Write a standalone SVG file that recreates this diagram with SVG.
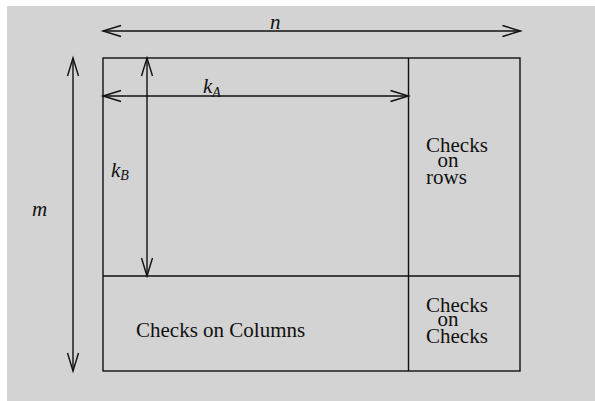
<svg xmlns="http://www.w3.org/2000/svg" width="595" height="401" viewBox="0 0 595 401">
<style>
.ln{stroke:#111;stroke-width:1.4;fill:none}
.t{font-family:"Liberation Serif","Times New Roman",serif;font-size:21px;fill:#111}
.m{font-family:"Liberation Serif","Times New Roman",serif;font-style:italic;font-size:21px;fill:#111}
.s{font-size:14px}
</style>
<defs>
<marker id="ah" markerUnits="userSpaceOnUse" markerWidth="24" markerHeight="16" viewBox="-20 -8 24 16" refX="0" refY="0" orient="auto-start-reverse" overflow="visible">
<path d="M-18,-5.5 L0,0 L-18,5.5" stroke="#111" stroke-width="1.4" fill="none"/>
</marker>
</defs>
<rect x="0" y="0" width="595" height="401" fill="#ffffff"/>
<rect x="7" y="6" width="588" height="395" fill="#d3d3d3"/>
<g id="matrix">
<rect class="ln" x="103" y="58" width="417" height="313"/>
<line class="ln" x1="408.5" y1="58" x2="408.5" y2="371"/>
<line class="ln" x1="103" y1="276" x2="520" y2="276"/>
</g>
<g id="connectors">
<line class="ln" x1="103" y1="31" x2="520.5" y2="31" marker-start="url(#ah)" marker-end="url(#ah)"/>
<line class="ln" x1="103" y1="96" x2="408.5" y2="96" marker-start="url(#ah)" marker-end="url(#ah)"/>
<line class="ln" x1="147" y1="58" x2="147" y2="276" marker-start="url(#ah)" marker-end="url(#ah)"/>
<line class="ln" x1="73" y1="58" x2="73" y2="371" marker-start="url(#ah)" marker-end="url(#ah)"/>
</g>
<g id="labels">
<text class="m" x="270" y="28.5">n</text>
<text class="m" x="203" y="93">k<tspan class="s" dy="4">A</tspan></text>
<text class="m" x="111" y="177">k<tspan class="s" dy="2.5">B</tspan></text>
<text class="m" x="32" y="216">m</text>
</g>
<g id="checks-rows">
<text class="t" x="426" y="151.7">Checks</text>
<text class="t" x="437.5" y="166.7">on</text>
<text class="t" x="426" y="183.5">rows</text>
</g>
<g id="checks-checks">
<text class="t" x="426" y="311.7">Checks</text>
<text class="t" x="437.5" y="325.5">on</text>
<text class="t" x="426" y="342.7">Checks</text>
</g>
<g id="checks-columns">
<text class="t" x="136" y="337">Checks on Columns</text>
</g>
</svg>
